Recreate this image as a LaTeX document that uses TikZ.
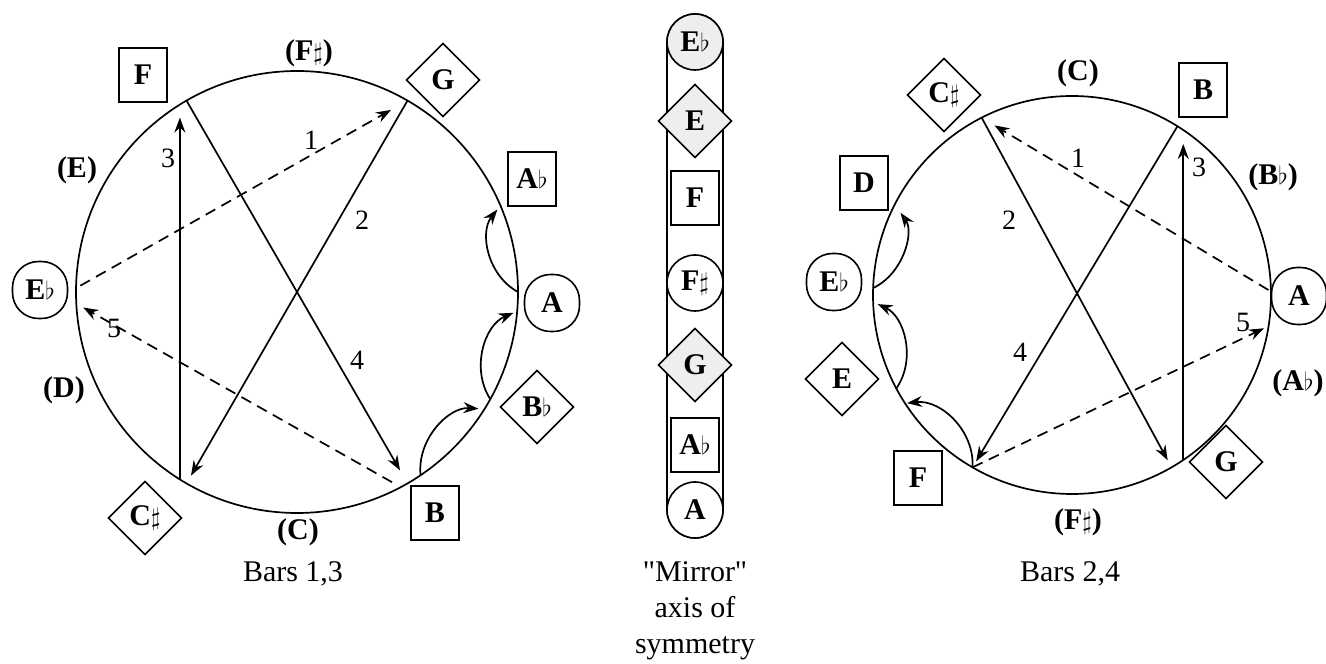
\documentclass[tikz,border=0pt]{standalone}
\usepackage{fontspec}
\setmainfont{Liberation Serif}
\newfontfamily\rawserif{Liberation Serif}[Ligatures=TeXOff]
\usetikzlibrary{shapes.geometric,arrows.meta,calc}
\newcommand{\myflat}{{\fontsize{25}{25}\selectfont$\flat$}}
\newcommand{\mysharp}{{\fontsize{27}{27}\selectfont$\sharp$}}
\begin{document}
\begin{tikzpicture}[x=1pt,y=1pt,
  every node/.style={inner sep=0pt, outer sep=0pt},
  stroke/.style={line width=1.7pt},
  note/.style={font=\fontsize{30}{34}\selectfont\bfseries, line width=1.6pt},
  notebox/.style={note, draw, fill=white, rectangle, minimum width=48pt, minimum height=54pt},
  notedia/.style={note, draw, fill=white, diamond, minimum width=73pt, minimum height=73pt},
  noternd/.style={note, draw, fill=white, rectangle, rounded corners=26pt, minimum width=55pt, minimum height=57pt},
  notecirc/.style={note, draw, fill=white, circle, minimum size=56pt},
  numlab/.style={font=\fontsize{28}{32}\selectfont},
  captext/.style={font=\fontsize{30}{37}\selectfont, anchor=base},
  arr/.style={stroke, -{Stealth[length=15pt,width=11pt,inset=5pt]}},
  dsh/.style={arr, dash pattern=on 11pt off 7pt},
  stipple/.style={fill=gray!13},
]
\useasboundingbox (0,0) rectangle (1326,664);

% ---------------- left circle: Bars 1,3 ----------------
\coordinate (LC) at (297,372);
\draw[stroke] (LC) circle[radius=221pt];
\foreach \n/\a in {a/179, b/60, c/240, d/238, e/122, f/120, g/300, h/298, i/183,
                   j/304, k/328, l/331, m/355, n/0, o/23}
  \coordinate (L\n) at ($(LC)+(\a:221pt)$);

\draw[dsh, shorten <=5pt, shorten >=19pt] (La) -- (Lb);   % 1
\draw[arr, shorten >=9pt] (Lb) -- (Lc);                   % 2
\draw[arr, shorten >=13pt] (Ld) -- (Le);                  % 3
\draw[arr, shorten >=15pt] (Lf) -- (Lg);                  % 4
\draw[dsh, shorten <=10pt, shorten >=8pt] (Lh) -- (Li);   % 5
\draw[arr, shorten >=6pt] (Lj) to[bend left=50] (Lk);
\draw[arr, shorten >=4pt] (Ll) to[bend left=50] (Lm);
\draw[arr, shorten >=5pt] (Ln) to[bend left=50] (Lo);

\node[notebox] (lF) at (143,589) {F};
\node[note] (lFs) at (309,611) {(F\mysharp)};
\node[notedia] (lG) at (443,584) {G};
\node[note] (lE) at (77,494) {(E)};
\node[notebox] (lAb) at (532,485) {A\myflat};
\node[noternd] (lA) at (552,361) {A};
\node[noternd] (lEb) at (40,374) {E\myflat};
\node[note] (lD) at (64,274) {(D)};
\node[notedia] (lBb) at (537,257) {B\myflat};
\node[notedia] (lCs) at (145,146) {C\mysharp};
\node[note] (lC) at (298,132) {(C)};
\node[notebox] (lB) at (435,151) {B};
\node[numlab] (l1) at (311,524) {1};
\node[numlab] (l2) at (362,444) {2};
\node[numlab] (l3) at (168,506) {3};
\node[numlab] (l4) at (357,304) {4};
\node[numlab] (l5) at (114,336) {5};
\node[captext] (lcap) at (293,82) {Bars 1,3};

% ---------------- middle column ----------------
\node[draw, line width=1.6pt, rectangle, rounded corners=28pt, minimum width=56pt,
      minimum height=524pt] (axis) at (695,388) {};
\node[notecirc, stipple] (mEb) at (695,622) {E\myflat};
\node[notedia, stipple] (mE) at (695,543) {E};
\node[notebox] (mF) at (695,466) {F};
\node[notecirc] (mFs) at (695,381) {F\mysharp};
\node[notedia, stipple] (mG) at (695,299) {G};
\node[notebox] (mAb) at (695,219) {A\myflat};
\node[notecirc] (mA) at (695,154) {A};
\node[captext] (mcap1) at (695,82) {{\rawserif"}Mirror{\rawserif"}};
\node[captext] (mcap2) at (695,46) {axis of};
\node[captext] (mcap3) at (695,10) {symmetry};

% ---------------- right circle: Bars 2,4 ----------------
\coordinate (RC) at (1072,369);
\draw[stroke] (RC) circle[radius=199pt];
\foreach \n/\a in {a/1, b/117, c/300, d/304, e/56, f/58, g/240, h/351,
                   i/208, j/182, k/213, l/178, m/153}
  \coordinate (R\n) at ($(RC)+(\a:199pt)$);

\draw[dsh, shorten <=3pt, shorten >=15pt] (Ra) -- (Rb);   % 1
\draw[arr, shorten >=8pt] (Rb) -- (Rc);                   % 2
\draw[arr, shorten >=14pt] (Rd) -- (Re);                  % 3
\draw[arr, shorten >=7pt] (Rf) -- (Rg);                   % 4
\draw[dsh, shorten >=5pt] (Rg) -- (Rh);                   % 5
\draw[arr, shorten >=5pt] (Ri) to[bend right=50] (Rj);
\draw[arr, shorten >=2pt] (Rg) to[bend right=50] (Rk);
\draw[arr, shorten >=10pt] (Rl) to[bend right=50] (Rm);

\node[notedia] (rCs) at (944,569) {C\mysharp};
\node[note] (rC) at (1078,591) {(C)};
\node[notebox] (rB) at (1203,574) {B};
\node[notebox] (rD) at (864,481) {D};
\node[note] (rBb) at (1273,487) {(B\myflat)};
\node[noternd] (rEb) at (834,382) {E\myflat};
\node[noternd] (rA) at (1299,368) {A};
\node[notedia] (rE) at (842,285) {E};
\node[note] (rAb) at (1298,281) {(A\myflat)};
\node[notebox] (rF) at (918,186) {F};
\node[notedia] (rG) at (1226,202) {G};
\node[note] (rFs) at (1078,142) {(F\mysharp)};
\node[numlab] (r1) at (1078,506) {1};
\node[numlab] (r2) at (1009,444) {2};
\node[numlab] (r3) at (1199,497) {3};
\node[numlab] (r4) at (1020,312) {4};
\node[numlab] (r5) at (1243,342) {5};
\node[captext] (rcap) at (1070,82) {Bars 2,4};
\end{tikzpicture}
\end{document}
